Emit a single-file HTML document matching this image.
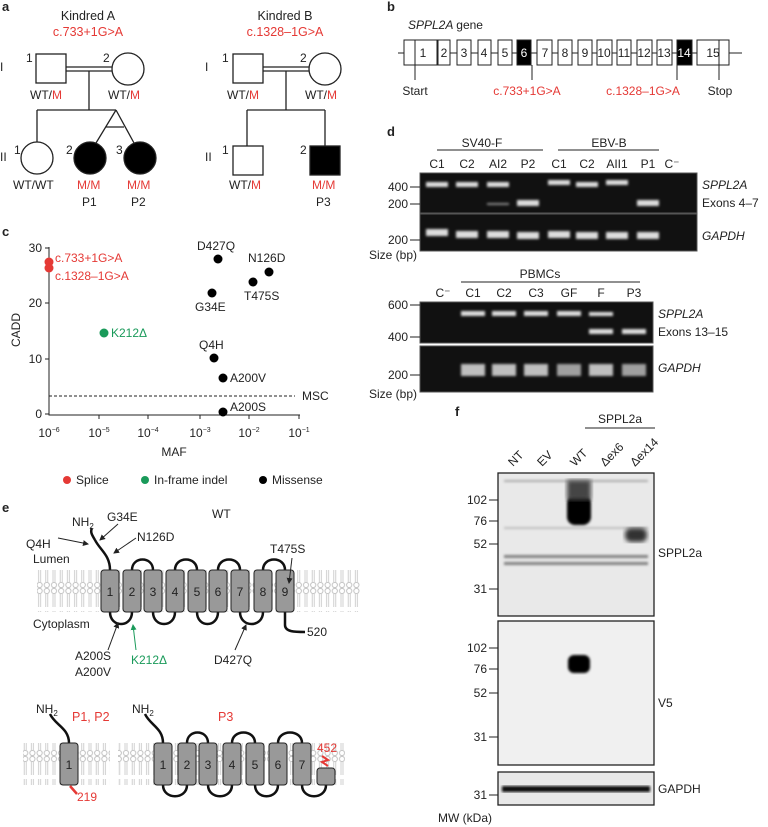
<!DOCTYPE html><html><head><style>body{margin:0;background:#fff}svg{display:block;font-family:"Liberation Sans",sans-serif}</style></head><body>
<svg width="768" height="827" viewBox="0 0 768 827" xmlns="http://www.w3.org/2000/svg">
<defs>
<pattern id="lip" x="0" y="0" width="7.2" height="42" patternUnits="userSpaceOnUse">
<circle cx="3.6" cy="3" r="2.6" fill="#fff" stroke="#c4c4c4" stroke-width="1"/>
<circle cx="3.6" cy="39" r="2.6" fill="#fff" stroke="#c4c4c4" stroke-width="1"/>
<path d="M2.6 6V19M4.6 6V19M2.6 23V36M4.6 23V36" stroke="#c4c4c4" stroke-width="0.8"/>
</pattern>
<filter id="bl"><feGaussianBlur stdDeviation="1.2"/></filter>
<filter id="bl2"><feGaussianBlur stdDeviation="2.5"/></filter>
<marker id="ar" markerWidth="6" markerHeight="6" refX="5" refY="3" orient="auto"><path d="M0,0L6,3L0,6z" fill="#222"/></marker>
<marker id="ag" markerWidth="6" markerHeight="6" refX="5" refY="3" orient="auto"><path d="M0,0L6,3L0,6z" fill="#1a9a5a"/></marker>
</defs>
<g font-size="12" fill="#222">
<text x="2" y="11" font-weight="bold" font-size="13">a</text>
<text x="387" y="11" font-weight="bold" font-size="13">b</text>
<text x="2" y="236" font-weight="bold" font-size="13">c</text>
<text x="387" y="136" font-weight="bold" font-size="13">d</text>
<text x="2" y="512" font-weight="bold" font-size="13">e</text>
<text x="455" y="416" font-weight="bold" font-size="13">f</text>

<!-- a -->
<g stroke="#222" stroke-width="1.3" fill="none">
<rect x="36" y="54" width="30" height="29"/><circle cx="128" cy="69" r="16"/>
<path d="M66 67H112M66 71H112M89 71V110M37 110H116M37 110V142M116 110L96 143M116 110L134 143M106 127H124"/>
<circle cx="37" cy="158" r="16"/><circle cx="90" cy="158" r="16" fill="#000"/><circle cx="140" cy="158" r="16" fill="#000"/>
<rect x="233" y="54" width="30" height="29"/><circle cx="325" cy="69" r="16"/>
<path d="M263 67H309M263 71H309M286 71V110M247 110H325M247 110V146M325 110V146"/>
<rect x="233" y="146" width="30" height="29"/><rect x="310" y="146" width="30" height="29" fill="#000"/>
</g>
<text x="88" y="20" text-anchor="middle" font-size="12.5">Kindred A</text>
<text x="88" y="36" text-anchor="middle" font-size="12.5" fill="#e53935">c.733+1G&gt;A</text>
<text x="285" y="20" text-anchor="middle" font-size="12.5">Kindred B</text>
<text x="285" y="36" text-anchor="middle" font-size="12.5" fill="#e53935">c.1328–1G&gt;A</text>
<text x="0" y="71">I</text><text x="0" y="161">II</text><text x="205" y="71">I</text><text x="205" y="161">II</text>
<text x="26" y="62">1</text><text x="103" y="62">2</text><text x="14" y="154">1</text><text x="66" y="154">2</text><text x="116" y="154">3</text>
<text x="222" y="62">1</text><text x="300" y="62">2</text><text x="222" y="154">1</text><text x="300" y="154">2</text>
<text x="30" y="99">WT/<tspan fill="#e53935">M</tspan></text><text x="108" y="99">WT/<tspan fill="#e53935">M</tspan></text>
<text x="227" y="99">WT/<tspan fill="#e53935">M</tspan></text><text x="305" y="99">WT/<tspan fill="#e53935">M</tspan></text>
<text x="13" y="189">WT/WT</text><text x="77" y="189" fill="#e53935">M/M</text><text x="127" y="189" fill="#e53935">M/M</text>
<text x="82" y="206">P1</text><text x="131" y="206">P2</text>
<text x="229" y="189">WT/<tspan fill="#e53935">M</tspan></text><text x="312" y="189" fill="#e53935">M/M</text><text x="316" y="206">P3</text>

<!-- b -->
<text x="408" y="29" font-style="italic">SPPL2A <tspan font-style="normal">gene</tspan></text>
<path d="M398 53H742" stroke="#222"/>
<g stroke="#222" stroke-width="1" fill="#fff">
<rect x="404" y="40" width="33" height="25"/><rect x="438" y="40" width="12" height="25"/><rect x="457" y="40" width="14" height="25"/><rect x="478" y="40" width="13" height="25"/><rect x="498" y="40" width="14" height="25"/><rect x="517" y="40" width="14" height="25" fill="#000"/><rect x="537" y="40" width="15" height="25"/><rect x="558" y="40" width="14" height="25"/><rect x="578" y="40" width="14" height="25"/><rect x="597" y="40" width="15" height="25"/><rect x="617" y="40" width="14" height="25"/><rect x="637" y="40" width="15" height="25"/><rect x="657" y="40" width="15" height="25"/><rect x="677" y="40" width="15" height="25" fill="#000"/><rect x="697" y="40" width="32" height="25"/>
<path d="M415 40V80M532 65V80M677 65V80M719 40V80" fill="none"/>
</g>
<g font-size="12" text-anchor="middle"><text x="423" y="57">1</text><text x="444" y="57">2</text><text x="464" y="57">3</text><text x="484" y="57">4</text><text x="505" y="57">5</text><text x="524" y="57" fill="#fff">6</text><text x="545" y="57">7</text><text x="565" y="57">8</text><text x="585" y="57">9</text><text x="604" y="57">10</text><text x="624" y="57">11</text><text x="644" y="57">12</text><text x="664" y="57">13</text><text x="684" y="57" fill="#fff">14</text><text x="713" y="57">15</text>
<text x="415" y="95">Start</text><text x="527" y="95" fill="#e53935">c.733+1G&gt;A</text><text x="643" y="95" fill="#e53935">c.1328–1G&gt;A</text><text x="720" y="95">Stop</text></g>

<!-- d -->
<g font-size="12" text-anchor="middle">
<text x="482" y="147">SV40-F</text><text x="609" y="147">EBV-B</text>
<path d="M437 150H543M558 150H659" stroke="#222"/>
<text x="437" y="168">C1</text><text x="467" y="168">C2</text><text x="498" y="168">AI2</text><text x="528" y="168">P2</text><text x="559" y="168">C1</text><text x="587" y="168">C2</text><text x="617" y="168">AII1</text><text x="648" y="168">P1</text><text x="672" y="168">C⁻</text>
<text x="540" y="278">PBMCs</text><path d="M461 282H640" stroke="#222"/>
<text x="443" y="297">C⁻</text><text x="473" y="297">C1</text><text x="504" y="297">C2</text><text x="536" y="297">C3</text><text x="569" y="297">GF</text><text x="601" y="297">F</text><text x="634" y="297">P3</text>
</g>
<rect x="420" y="173" width="277" height="40" fill="#111" stroke="#555"/><rect x="420" y="214" width="277" height="37" fill="#111" stroke="#555"/>
<g fill="#ddd" filter="url(#bl)">
<rect x="426" y="182" width="22" height="5"/><rect x="456" y="182" width="22" height="5"/><rect x="487" y="182" width="22" height="5"/><rect x="548" y="180" width="22" height="5"/><rect x="576" y="182" width="22" height="5"/><rect x="606" y="180" width="22" height="5"/>
<rect x="517" y="200" width="22" height="6"/><rect x="637" y="200" width="22" height="6"/><rect x="487" y="203" width="22" height="2" opacity=".6"/>
<rect x="426" y="229" width="22" height="7"/><rect x="456" y="231" width="22" height="7"/><rect x="487" y="231" width="22" height="7"/><rect x="517" y="232" width="22" height="7"/><rect x="548" y="231" width="22" height="7"/><rect x="576" y="232" width="22" height="7"/><rect x="606" y="232" width="22" height="7"/><rect x="637" y="232" width="22" height="7"/>
</g>
<rect x="420" y="302" width="233" height="41" fill="#111" stroke="#555"/><rect x="420" y="346" width="233" height="46" fill="#111" stroke="#555"/>
<g fill="#ddd" filter="url(#bl)">
<rect x="461" y="311" width="24" height="5"/><rect x="492" y="311" width="24" height="5"/><rect x="524" y="311" width="24" height="5"/><rect x="557" y="311" width="24" height="5"/><rect x="589" y="312" width="24" height="4"/><rect x="589" y="329" width="24" height="5"/><rect x="622" y="329" width="24" height="5"/>
<rect x="461" y="364" width="24" height="12" opacity=".85"/><rect x="492" y="364" width="24" height="12" opacity=".85"/><rect x="524" y="364" width="24" height="12" opacity=".85"/><rect x="557" y="364" width="24" height="12" opacity=".7"/><rect x="589" y="364" width="24" height="12" opacity=".85"/><rect x="622" y="364" width="24" height="12" opacity=".7"/>
</g>
<g font-size="12" text-anchor="end">
<text x="408" y="191">400</text><text x="408" y="208">200</text><text x="408" y="244">200</text><text x="417" y="259">Size (bp)</text>
<text x="408" y="309">600</text><text x="408" y="341">400</text><text x="408" y="379">200</text><text x="417" y="398">Size (bp)</text>
<path d="M410 187H420M410 204H420M410 240H420M410 305H420M410 337H420M410 375H420" stroke="#222"/>
</g>
<text x="702" y="189" font-style="italic">SPPL2A</text><text x="702" y="207">Exons 4–7</text><text x="702" y="240" font-style="italic">GAPDH</text>
<text x="658" y="318" font-style="italic">SPPL2A</text><text x="658" y="336">Exons 13–15</text><text x="658" y="372" font-style="italic">GAPDH</text>

<!-- c -->
<path d="M49 247V415H300" stroke="#222" fill="none"/>
<path d="M45 248H49M45 303H49M45 359H49M45 414H49M99 415V419M148 415V419M200 415V419M249 415V419M299 415V419" stroke="#222"/>
<path d="M49 396H295" stroke="#222" stroke-dasharray="3,2"/>
<g font-size="12" text-anchor="end"><text x="42" y="252">30</text><text x="42" y="307">20</text><text x="42" y="363">10</text><text x="42" y="418">0</text></g>
<g font-size="12" text-anchor="middle"><text x="49" y="437">10<tspan font-size="7" dy="-5">−6</tspan></text><text x="99" y="437">10<tspan font-size="7" dy="-5">−5</tspan></text><text x="148" y="437">10<tspan font-size="7" dy="-5">−4</tspan></text><text x="200" y="437">10<tspan font-size="7" dy="-5">−3</tspan></text><text x="249" y="437">10<tspan font-size="7" dy="-5">−2</tspan></text><text x="299" y="437">10<tspan font-size="7" dy="-5">−1</tspan></text><text x="174" y="456">MAF</text></g>
<text x="20" y="330" transform="rotate(-90 20 330)" text-anchor="middle">CADD</text>
<text x="302" y="400">MSC</text>
<circle cx="49" cy="262" r="4.5" fill="#e53935"/><circle cx="49" cy="268" r="4.5" fill="#e53935"/>
<circle cx="104" cy="333" r="4.5" fill="#1a9a5a"/>
<g fill="#000"><circle cx="218" cy="259" r="4.5"/><circle cx="269" cy="272" r="4.5"/><circle cx="253" cy="282" r="4.5"/><circle cx="212" cy="293" r="4.5"/><circle cx="214" cy="358" r="4.5"/><circle cx="223" cy="378" r="4.5"/><circle cx="223" cy="412" r="4.5"/></g>
<text x="55" y="262" fill="#e53935">c.733+1G&gt;A</text><text x="55" y="280" fill="#e53935">c.1328–1G&gt;A</text>
<text x="111" y="337" fill="#1a9a5a">K212Δ</text>
<text x="197" y="250">D427Q</text><text x="248" y="262">N126D</text><text x="244" y="300">T475S</text><text x="195" y="311">G34E</text><text x="199" y="349">Q4H</text><text x="230" y="382">A200V</text><text x="230" y="411">A200S</text>
<circle cx="67" cy="480" r="4" fill="#e53935"/><text x="76" y="484">Splice</text>
<circle cx="145" cy="480" r="4" fill="#1a9a5a"/><text x="154" y="484">In-frame indel</text>
<circle cx="263" cy="480" r="4" fill="#000"/><text x="272" y="484">Missense</text>

<!-- e -->
<text x="212" y="518">WT</text>
<rect x="37" y="570" width="323" height="42" fill="url(#lip)"/>
<path d="M110 570C110 555 100 550 95 540M95 540C92 535 90 532 92 528M132 612C132 628 110 628 110 612" stroke="#111" stroke-width="2.5" fill="none"/>
<g stroke="#111" stroke-width="2.5" fill="none">
<path d="M132 570C132 556 153 556 153 570M175 570C175 556 197 556 197 570M218 570C218 556 240 556 240 570M263 570C263 556 285 556 285 570"/>
<path d="M153 612C153 628 175 628 175 612M197 612C197 628 218 628 218 612M240 612C240 628 263 628 263 612M285 612V625C285 632 295 632 305 632"/>
</g>
<g fill="#999" stroke="#222">
<rect x="101" y="570" width="18" height="42" rx="3"/><rect x="123" y="570" width="18" height="42" rx="3"/><rect x="144" y="570" width="18" height="42" rx="3"/><rect x="166" y="570" width="18" height="42" rx="3"/><rect x="188" y="570" width="18" height="42" rx="3"/><rect x="209" y="570" width="18" height="42" rx="3"/><rect x="231" y="570" width="18" height="42" rx="3"/><rect x="254" y="570" width="18" height="42" rx="3"/><rect x="276" y="570" width="18" height="42" rx="3"/>
</g>
<g font-size="12" text-anchor="middle"><text x="110" y="596">1</text><text x="132" y="596">2</text><text x="153" y="596">3</text><text x="175" y="596">4</text><text x="197" y="596">5</text><text x="218" y="596">6</text><text x="240" y="596">7</text><text x="263" y="596">8</text><text x="285" y="596">9</text></g>
<text x="72" y="526">NH<tspan font-size="8" dy="3">2</tspan></text>
<text x="26" y="548">Q4H</text><text x="107" y="521">G34E</text><text x="137" y="541">N126D</text><text x="33" y="563">Lumen</text><text x="33" y="628">Cytoplasm</text>
<text x="270" y="553">T475S</text><text x="307" y="636">520</text>
<text x="75" y="660">A200S</text><text x="75" y="676">A200V</text><text x="131" y="664" fill="#1a9a5a">K212Δ</text><text x="214" y="664">D427Q</text>
<g stroke="#222" fill="none"><path d="M58 538L88 544" marker-end="url(#ar)"/><path d="M118 524L100 540" marker-end="url(#ar)"/><path d="M136 538L114 553" marker-end="url(#ar)"/><path d="M108 650L118 623" marker-end="url(#ar)"/><path d="M235 650L246 625" marker-end="url(#ar)"/><path d="M292 558L289 583" marker-end="url(#ar)"/></g>
<path d="M136 650L133 625" stroke="#1a9a5a" marker-end="url(#ag)"/>
<rect x="23" y="743" width="87" height="42" fill="url(#lip)"/><rect x="118" y="743" width="227" height="42" fill="url(#lip)"/>
<g stroke="#111" stroke-width="2.5" fill="none">
<path d="M69 743C69 728 55 725 50 714"/>
<path d="M163 743C163 728 150 725 145 714M187 743C187 729 208 729 208 743M232 743C232 729 255 729 255 743M278 743C278 729 302 729 302 743M187 785C187 800 163 800 163 785M232 785C232 800 208 800 208 785M278 785C278 800 255 800 255 785M326 785C326 800 302 800 302 785"/>
</g>
<g fill="#999" stroke="#222">
<rect x="60" y="743" width="18" height="42" rx="3"/>
<rect x="154" y="743" width="18" height="42" rx="3"/><rect x="178" y="743" width="18" height="42" rx="3"/><rect x="199" y="743" width="18" height="42" rx="3"/><rect x="223" y="743" width="18" height="42" rx="3"/><rect x="246" y="743" width="18" height="42" rx="3"/><rect x="269" y="743" width="18" height="42" rx="3"/><rect x="293" y="743" width="18" height="42" rx="3"/><rect x="317" y="768" width="18" height="17" rx="3"/>
</g>
<g font-size="12" text-anchor="middle"><text x="69" y="769">1</text><text x="163" y="769">1</text><text x="187" y="769">2</text><text x="208" y="769">3</text><text x="232" y="769">4</text><text x="255" y="769">5</text><text x="278" y="769">6</text><text x="302" y="769">7</text></g>
<text x="36" y="713">NH<tspan font-size="8" dy="3">2</tspan></text><text x="132" y="713">NH<tspan font-size="8" dy="3">2</tspan></text>
<text x="72" y="721" fill="#e53935" font-size="12.5">P1, P2</text><text x="218" y="721" fill="#e53935" font-size="12.5">P3</text>
<text x="317" y="752" fill="#e53935">452</text><text x="77" y="801" fill="#e53935">219</text>
<path d="M322 756L328 760L322 762L328 766" stroke="#e53935" stroke-width="2" fill="none"/><path d="M70 786L77 794" stroke="#e53935" stroke-width="2.5"/>

<!-- f -->
<text x="620" y="423" text-anchor="middle">SPPL2a</text><path d="M585 428H655" stroke="#222"/>
<g font-size="12"><text transform="translate(513,467) rotate(-45)">NT</text><text transform="translate(542,467) rotate(-45)">EV</text><text transform="translate(575,467) rotate(-45)">WT</text><text transform="translate(605,467) rotate(-45)">Δex6</text><text transform="translate(635,467) rotate(-45)">Δex14</text></g>
<rect x="498" y="473" width="156" height="143" fill="#e9e9e9" stroke="#222" stroke-width="1.3"/>
<g filter="url(#bl)" fill="#555" opacity=".7">
<rect x="504" y="555" width="144" height="3"/><rect x="504" y="562" width="144" height="3"/><rect x="504" y="480" width="144" height="2" opacity=".6"/><rect x="504" y="527" width="144" height="2" opacity=".4"/>
</g>
<rect x="567" y="495" width="24" height="30" rx="8" fill="#000" filter="url(#bl)"/><rect x="567" y="480" width="24" height="20" fill="#444" filter="url(#bl2)"/>
<rect x="625" y="528" width="22" height="14" rx="6" fill="#333" filter="url(#bl2)"/>
<rect x="498" y="621" width="156" height="144" fill="#f0f0f0" stroke="#222" stroke-width="1.3"/>
<rect x="568" y="655" width="22" height="18" rx="6" fill="#000" filter="url(#bl)"/>
<rect x="498" y="772" width="156" height="33" fill="#e8e8e8" stroke="#222" stroke-width="1.3"/>
<rect x="502" y="786" width="148" height="6" fill="#111" filter="url(#bl)"/>
<g font-size="12" text-anchor="end"><text x="487" y="504">102</text><text x="487" y="525">76</text><text x="487" y="548">52</text><text x="487" y="593">31</text><text x="487" y="652">102</text><text x="487" y="673">76</text><text x="487" y="697">52</text><text x="487" y="741">31</text><text x="487" y="799">31</text></g>
<path d="M489 500H498M489 521H498M489 544H498M489 589H498M489 648H498M489 669H498M489 693H498M489 737H498M489 795H498" stroke="#222"/>
<text x="658" y="557">SPPL2a</text><text x="658" y="707">V5</text><text x="658" y="793">GAPDH</text>
<text x="438" y="822">MW (kDa)</text>
</g>
</svg>
</body></html>
